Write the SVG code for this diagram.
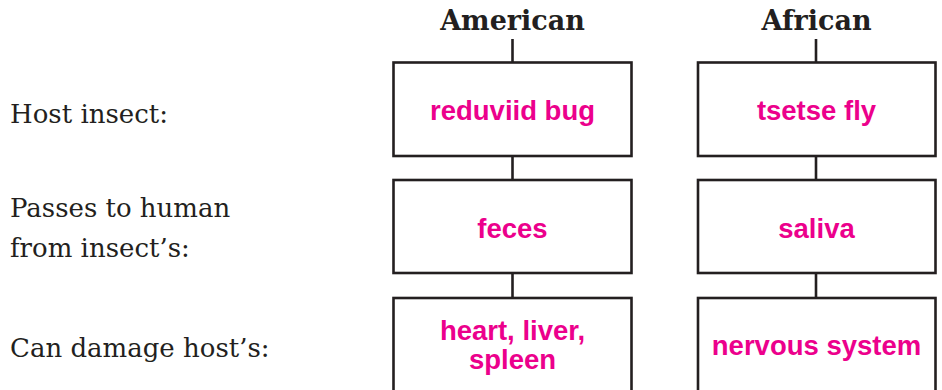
<svg xmlns="http://www.w3.org/2000/svg" width="942" height="390" viewBox="0 0 942 390">
<style>
.box{fill:#fff;stroke:#231f20;stroke-width:2.6}
.ln{stroke:#231f20;stroke-width:2.6;fill:none}
.hd{font-family:"DejaVu Serif",serif;font-weight:bold;font-size:27px;fill:#231f20;text-anchor:middle}
.lb{font-family:"DejaVu Serif",serif;font-size:26px;fill:#231f20}
.pk{font-family:"Liberation Sans",Arial,sans-serif;font-weight:bold;font-size:27.5px;fill:#EC008C;text-anchor:middle}
</style>
<rect width="942" height="390" fill="#fff"/>
<g id="labels">
<text class="lb" x="10" y="123">Host insect:</text>
<text class="lb" x="10" y="217">Passes to human</text>
<text class="lb" x="10" y="257">from insect’s:</text>
<text class="lb" x="10" y="357">Can damage host’s:</text>
</g>
<g id="connectors">
<line class="ln" x1="512.5" y1="39" x2="512.5" y2="62.5"/>
<line class="ln" x1="512.5" y1="156" x2="512.5" y2="180"/>
<line class="ln" x1="512.5" y1="273" x2="512.5" y2="298"/>
<line class="ln" x1="816" y1="39" x2="816" y2="62.5"/>
<line class="ln" x1="816" y1="156" x2="816" y2="180"/>
<line class="ln" x1="816" y1="273" x2="816" y2="298"/>
</g>
<g id="american">
<text class="hd" x="512.5" y="30">American</text>
</g>
<g id="african">
<text class="hd" x="816.5" y="30">African</text>
</g>
<g id="am-host">
<rect class="box" x="393.5" y="62.5" width="238" height="93.5"/>
<text class="pk" x="512.5" y="120">reduviid bug</text>
</g>
<g id="am-pass">
<rect class="box" x="393.5" y="180" width="238" height="93"/>
<text class="pk" x="512.5" y="238">feces</text>
</g>
<g id="am-damage">
<rect class="box" x="393.5" y="298" width="238" height="100"/>
<text class="pk" x="512.5" y="340">heart, liver,</text>
<text class="pk" x="512.5" y="369">spleen</text>
</g>
<g id="af-host">
<rect class="box" x="698" y="62.5" width="237.5" height="93.5"/>
<text class="pk" x="816.5" y="120">tsetse fly</text>
</g>
<g id="af-pass">
<rect class="box" x="698" y="180" width="237.5" height="93"/>
<text class="pk" x="816.5" y="238">saliva</text>
</g>
<g id="af-damage">
<rect class="box" x="698" y="298" width="237.5" height="100"/>
<text class="pk" x="816.5" y="355">nervous system</text>
</g>
</svg>
